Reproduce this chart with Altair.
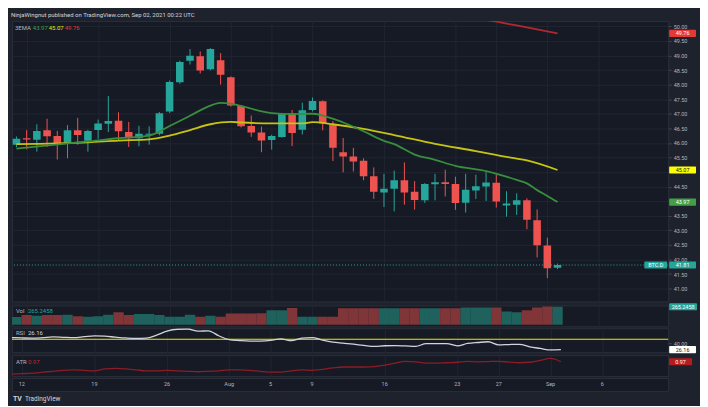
import altair as alt
import pandas as pd

FONT = "Roboto"
BG = "#1e222d"
PANEL = "#161a25"
GRID = "#212532"
BORDER = "#2a2e39"
TXT = "#b2b5be"
UP = "#26a69a"
DOWN = "#ef5350"
VUP = "#1f615c"
VDOWN = "#803539"

# ---------------- data ----------------
dates = [d.strftime("%Y-%m-%d") for d in pd.date_range("2021-07-11", "2021-09-02", freq="D")]

opens = [45.94, 46.16, 46.11, 46.43, 46.24, 45.96, 46.43, 46.07, 46.44, 46.66, 46.76, 46.37, 46.16, 46.28, 46.31, 47.08, 48.08, 48.82, 48.97, 48.53, 48.84,
         48.25, 47.27, 46.58, 46.36, 46.10, 46.20, 47.02, 46.45, 47.13, 47.43, 46.61, 45.68, 45.53, 45.39, 44.86, 44.30, 44.43, 44.72, 44.32, 44.03,
         44.58, 44.65, 44.59, 43.95, 44.37, 44.50, 44.63, 43.85, 43.88, 44.03, 43.35,
         42.48, 41.72]
highs = [46.22, 46.44, 46.64, 46.83, 46.41, 46.61, 46.86, 46.45, 46.80, 47.61, 47.05, 46.72, 46.59, 46.57, 47.06, 48.14, 48.82, 49.22, 49.14, 49.25, 49.08,
         48.28, 47.30, 46.94, 46.56, 46.28, 47.03, 47.13, 47.38, 47.56, 47.46, 46.75, 46.17, 45.83, 45.47, 45.16, 44.94, 45.05, 45.33, 44.69, 44.62,
         44.94, 45.08, 44.84, 44.94, 44.91, 44.99, 44.91, 44.34, 44.27, 44.10, 43.72,
         42.75, 41.86]
lows = [45.85, 45.78, 45.70, 45.86, 45.43, 45.47, 45.94, 45.70, 46.14, 46.37, 46.10, 45.86, 45.88, 45.94, 46.26, 47.03, 48.03, 48.69, 48.38, 48.49, 48.00,
        47.25, 46.53, 46.21, 45.68, 45.77, 46.18, 45.89, 46.29, 47.08, 46.43, 45.38, 44.99, 45.02, 44.72, 44.08, 43.80, 43.65, 43.88, 43.71, 43.94,
        44.03, 44.16, 43.70, 43.61, 44.08, 44.01, 43.78, 43.47, 43.53, 43.04, 42.07,
        41.36, 41.67]
closes = [46.14, 46.12, 46.41, 46.23, 45.95, 46.43, 46.27, 46.41, 46.67, 46.75, 46.40, 46.16, 46.31, 46.31, 47.02, 48.09, 48.78, 48.99, 48.48, 49.22, 48.34,
          47.28, 46.57, 46.36, 46.08, 46.24, 47.00, 46.34, 47.12, 47.44, 46.67, 45.83, 45.53, 45.36, 44.86, 44.32, 44.43, 44.72, 44.30, 44.04, 44.59,
          44.65, 44.59, 43.94, 44.39, 44.51, 44.64, 43.99, 43.92, 44.03, 43.36, 42.49,
          41.70, 41.81]
volumes = [113, 142, 132, 142, 142, 146, 123, 118, 123, 146, 184, 142, 156, 156, 142, 118, 118, 146, 118, 132, 118,
           166, 166, 166, 170, 213, 213, 248, 118, 118, 118, 118, 245, 245, 245, 245, 245, 245, 245, 245, 245,
           245, 245, 245, 255, 255, 255, 255, 194, 184, 213, 255,
           269, 265.2458]
rsi_vals = [53.8, 53.0, 52.5, 53.5, 55.2, 54.5, 53.8, 55.8, 57.8, 57.0, 54.9, 53.0, 51.8, 52.5, 59.5, 68.7, 73.0, 73.6, 68.5, 69.5, 58.0,
            49.0, 46.8, 45.6, 45.8, 47.3, 51.0, 46.6, 52.5, 53.8, 48.1, 43.5, 41.0, 38.5, 35.8, 33.4, 35.0, 35.4, 34.5, 33.4, 40.0,
            40.0, 40.0, 34.9, 40.2, 42.5, 44.2, 37.1, 37.8, 38.3, 32.5, 28.8,
            25.3, 26.16]
atr_vals = [0.71, 0.72, 0.73, 0.75, 0.77, 0.79, 0.80, 0.79, 0.78, 0.82, 0.83, 0.82, 0.80, 0.78, 0.78, 0.79, 0.78, 0.77, 0.76, 0.77, 0.78,
            0.80, 0.80, 0.79, 0.77, 0.75, 0.75, 0.78, 0.80, 0.79, 0.81, 0.84, 0.86, 0.86, 0.86, 0.87, 0.90, 0.94, 0.98, 0.97, 0.94,
            0.94, 0.95, 0.96, 0.98, 0.97, 0.975, 0.98, 0.965, 0.95, 0.96, 1.00,
            1.04, 0.97]

ema_green_dates = ["2021-07-11", "2021-07-18", "2021-07-21", "2021-07-24", "2021-07-26", "2021-07-28", "2021-07-30", "2021-07-31",
                   "2021-08-01", "2021-08-02", "2021-08-05", "2021-08-07", "2021-08-09", "2021-08-10", "2021-08-12", "2021-08-14",
                   "2021-08-16", "2021-08-17", "2021-08-19", "2021-08-21", "2021-08-23", "2021-08-26", "2021-08-29", "2021-08-30",
                   "2021-08-31", "2021-09-01", "2021-09-02"]
ema_green = [45.80, 46.05, 46.16, 46.25, 46.58, 46.93, 47.28, 47.37, 47.35, 47.27, 47.02, 46.99, 47.00, 46.94, 46.70, 46.40,
             46.07, 45.96, 45.60, 45.42, 45.21, 45.03, 44.73, 44.61, 44.38, 44.18, 43.97]
ema_yellow_dates = ["2021-07-11", "2021-07-18", "2021-07-21", "2021-07-24", "2021-07-26", "2021-07-28", "2021-07-30", "2021-08-01",
                    "2021-08-02", "2021-08-05", "2021-08-08", "2021-08-09", "2021-08-11", "2021-08-14", "2021-08-17", "2021-08-21",
                    "2021-08-25", "2021-08-28", "2021-08-30", "2021-09-02"]
ema_yellow = [45.96, 46.02, 46.08, 46.12, 46.25, 46.44, 46.64, 46.72, 46.70, 46.67, 46.67, 46.71, 46.64, 46.48, 46.27, 45.97,
              45.72, 45.52, 45.40, 45.07]
ema_red_dates = ["2021-08-20", "2021-08-26", "2021-08-29", "2021-09-02"]
ema_red = [50.45, 50.22, 50.03, 49.76]

tick_dates = ["2021-07-12", "2021-07-19", "2021-07-26", "2021-08-01", "2021-08-05", "2021-08-09",
              "2021-08-16", "2021-08-23", "2021-08-27", "2021-09-01", "2021-09-06"]
tick_labels = ["12", "19", "26", "Aug", "5", "9", "16", "23", "27", "Sep", "6"]
price_ticks = [41.0, 41.5, 42.0, 42.5, 43.0, 43.5, 44.0, 44.5, 45.0, 45.5, 46.0, 46.5, 47.0, 47.5, 48.0, 48.5, 49.0, 49.5, 50.0]
hidden_price_labels = [44.0, 45.0]   # covered by the value tags in the reference
rsi_level = [50]

# ---------------- layout ----------------
W = 660
H_MAIN, H_VOL, H_RSI, H_ATR, H_AX = 282, 21, 24, 21, 13


def ms(s):
    return int(pd.Timestamp(s, tz="UTC").timestamp() * 1000)


xscale = alt.Scale(type="utc", domain=[ms("2021-07-11 01:12"), ms("2021-09-12 08:24")], nice=False)
grid_axis = alt.Axis(values=[ms(d) for d in tick_dates], grid=True, gridColor=GRID, labels=False,
                     ticks=False, domain=False, title=None)
X = alt.X("date:T", scale=xscale, axis=grid_axis)

cdf = pd.DataFrame({"date": dates, "open": opens, "high": highs, "low": lows, "close": closes,
                    "volume": volumes, "rsi": rsi_vals, "atr": atr_vals})
cdf["col"] = [UP if c >= o else DOWN for o, c in zip(opens, closes)]
cdf["vcol"] = [VUP if c >= o else VDOWN for o, c in zip(opens, closes)]


def label(text, x, y, color, size=6, weight="normal"):
    return alt.Chart(pd.DataFrame({"t": [text]})).mark_text(
        align="left", baseline="middle", fontSize=size, color=color, fontWeight=weight, font=FONT, clip=False
    ).encode(text="t:N", x=alt.value(x), y=alt.value(y))


def tag(values, texts, fills, tcolors, Yf, x0, x1):
    df = pd.DataFrame({"v": values, "label": texts, "fill": fills, "tc": tcolors})
    r = alt.Chart(df).mark_rect(yOffset=-3.6, y2Offset=3.6, clip=False, cornerRadius=1).encode(
        x=alt.value(x0), x2=alt.value(x1), y=Yf("v:Q"), y2="v:Q", color=alt.Color("fill:N", scale=None))
    t = alt.Chart(df).mark_text(fontSize=5.5, clip=False, font=FONT, baseline="middle").encode(
        x=alt.value((x0 + x1) / 2), y=Yf("v:Q"), text="label:N", color=alt.Color("tc:N", scale=None))
    return r, t


# ---------------- main price panel ----------------
ys = alt.Scale(domain=[40.56, 50.18], zero=False, nice=False)
hide_expr = " || ".join(f"datum.value == {v}" for v in hidden_price_labels)
yax = alt.Axis(orient="right", values=price_ticks, format=".2f", title=None, grid=True, gridColor=GRID,
               domain=False, tickSize=3, tickColor="#434651", labelPadding=2, labelFontSize=5.5, labelColor=TXT,
               labelExpr=f"({hide_expr}) ? '' : format(datum.value, '.2f')")


def Ym(f):
    return alt.Y(f, scale=ys, axis=yax)


wicks = alt.Chart(cdf).mark_rule(strokeWidth=1, clip=True).encode(
    x=X, y=Ym("low:Q"), y2="high:Q", color=alt.Color("col:N", scale=None))
bodies = alt.Chart(cdf).mark_bar(size=7.6, clip=True).encode(
    x=X, y=Ym("open:Q"), y2="close:Q", color=alt.Color("col:N", scale=None))


def ema_line(ds, vs, color):
    df = pd.DataFrame({"date": ds, "v": vs})
    return alt.Chart(df).mark_line(color=color, strokeWidth=1.8, clip=True, interpolate="monotone").encode(
        x=X, y=Ym("v:Q"))


ema_g = ema_line(ema_green_dates, ema_green, "#388e3c")
ema_y = ema_line(ema_yellow_dates, ema_yellow, "#c6c411")
ema_r = ema_line(ema_red_dates, ema_red, "#b2282f")

last_rule = alt.Chart(pd.DataFrame({"v": [closes[-1]]})).mark_rule(
    color=UP, strokeDash=[1, 2], strokeWidth=1).encode(y=Ym("v:Q"))

btc_r, btc_t = tag([closes[-1]], ["BTC.D"], [UP], ["#ffffff"], Ym, W - 24, W - 1)
mt_r, mt_t = tag([ema_red[-1], ema_yellow[-1], ema_green[-1], closes[-1]],
                 [f"{v:.2f}" for v in [ema_red[-1], ema_yellow[-1], ema_green[-1], closes[-1]]],
                 ["#e53935", "#ffff00", "#43a047", UP], ["#ffffff", "#131722", "#ffffff", "#ffffff"],
                 Ym, W + 1, W + 28)

main = alt.layer(
    wicks, bodies, ema_y, ema_g, ema_r, last_rule, btc_r, btc_t, mt_r, mt_t,
    label("3EMA", 3, 7, TXT),
    label(f"{ema_green[-1]:.2f}", 21, 7, "#43a047"),
    label(f"{ema_yellow[-1]:.2f}", 37, 7, "#e6e60f"),
    label(f"{ema_red[-1]:.2f}", 53, 7, "#e53935"),
).properties(width=W, height=H_MAIN)

# ---------------- volume panel ----------------
vs = alt.Scale(domain=[-25, 285], zero=False, nice=False)
vax = alt.Axis(orient="right", labels=False, ticks=False, domain=False, grid=False, title=None)


def Yv(f):
    return alt.Y(f, scale=vs, axis=vax)


vol_bars = alt.Chart(cdf).mark_bar(size=10.4, clip=True).encode(
    x=X, y=Yv("volume:Q"), y2=alt.datum(0), color=alt.Color("vcol:N", scale=None))
vt_r, vt_t = tag([volumes[-1]], [f"{volumes[-1]:.4f}"], [UP], ["#ffffff"], Yv, W + 1, W + 29)
vol = alt.layer(
    vol_bars, vt_r, vt_t,
    label("Vol", 4, 6, TXT),
    label(f"{volumes[-1]:.4f}", 16, 6, UP),
).properties(width=W, height=H_VOL)

# ---------------- RSI panel ----------------
rs = alt.Scale(domain=[20.2, 75.2], zero=False, nice=False)
rax = alt.Axis(orient="right", values=[40], format=".2f", title=None, grid=False, domain=False,
               tickSize=3, tickColor="#434651", labelPadding=2, labelFontSize=5.5, labelColor=TXT)


def Yr(f):
    return alt.Y(f, scale=rs, axis=rax)


rsi_rule = alt.Chart(pd.DataFrame({"v": rsi_level})).mark_rule(color="#f2e40c", strokeWidth=1.2).encode(y=Yr("v:Q"))
rsi_line = alt.Chart(cdf).mark_line(color="#d1d4dc", strokeWidth=1.3, clip=True, interpolate="monotone").encode(
    x=X, y=Yr("rsi:Q"))
rt_r, rt_t = tag([rsi_vals[-1]], [f"{rsi_vals[-1]:.2f}"], ["#ffffff"], ["#131722"], Yr, W + 1, W + 28)
rsi = alt.layer(
    rsi_rule, rsi_line, rt_r, rt_t,
    label("RSI", 4, 5, TXT),
    label(f"{rsi_vals[-1]:.2f}", 16, 5, "#d1d4dc"),
).properties(width=W, height=H_RSI)

# ---------------- ATR panel ----------------
as_ = alt.Scale(domain=[0.67, 1.11], zero=False, nice=False)
aax = alt.Axis(orient="right", labels=False, ticks=False, domain=False, grid=False, title=None)


def Ya(f):
    return alt.Y(f, scale=as_, axis=aax)


atr_line = alt.Chart(cdf).mark_line(color="#8c1c26", strokeWidth=1.3, clip=True, interpolate="monotone").encode(
    x=X, y=Ya("atr:Q"))
at_r, at_t = tag([atr_vals[-1]], [f"{atr_vals[-1]:.2f}"], ["#b71c1c"], ["#ffffff"], Ya, W + 1, W + 24)
atr = alt.layer(
    atr_line, at_r, at_t,
    label("ATR", 4, 7, TXT),
    label(f"{atr_vals[-1]:.2f}", 16, 7, "#c62828"),
).properties(width=W, height=H_ATR)

# ---------------- time axis band + footer ----------------
tdf = pd.DataFrame({"date": tick_dates, "label": tick_labels})
ax_text = alt.Chart(tdf).mark_text(fontSize=5.5, color=TXT, baseline="middle", font=FONT).encode(
    x=alt.X("date:T", scale=xscale, axis=None), y=alt.value(H_AX / 2), text="label:N")
axband = alt.layer(
    ax_text,
    label("TV", 1, H_AX + 8, "#d1d4dc", size=7, weight="bold"),
    label("TradingView", 13, H_AX + 8, "#d1d4dc", size=6.5),
).properties(width=W, height=H_AX)

chart = alt.vconcat(main, vol, rsi, atr, axband, spacing=0).properties(
    title=alt.TitleParams(text="NinjaWingnut published on TradingView.com, Sep 02, 2021 00:22 UTC",
                          anchor="start", fontSize=6, color="#d1d4dc", fontWeight="normal", offset=3, font=FONT),
    padding={"left": 2, "top": 2, "right": 2, "bottom": 2},
).configure(background=BG, font=FONT).configure_view(
    fill=PANEL, stroke=BORDER, strokeWidth=1
).configure_axis(labelFont=FONT)

chart.save("out.html", embed_options={"renderer": "svg", "actions": False})
